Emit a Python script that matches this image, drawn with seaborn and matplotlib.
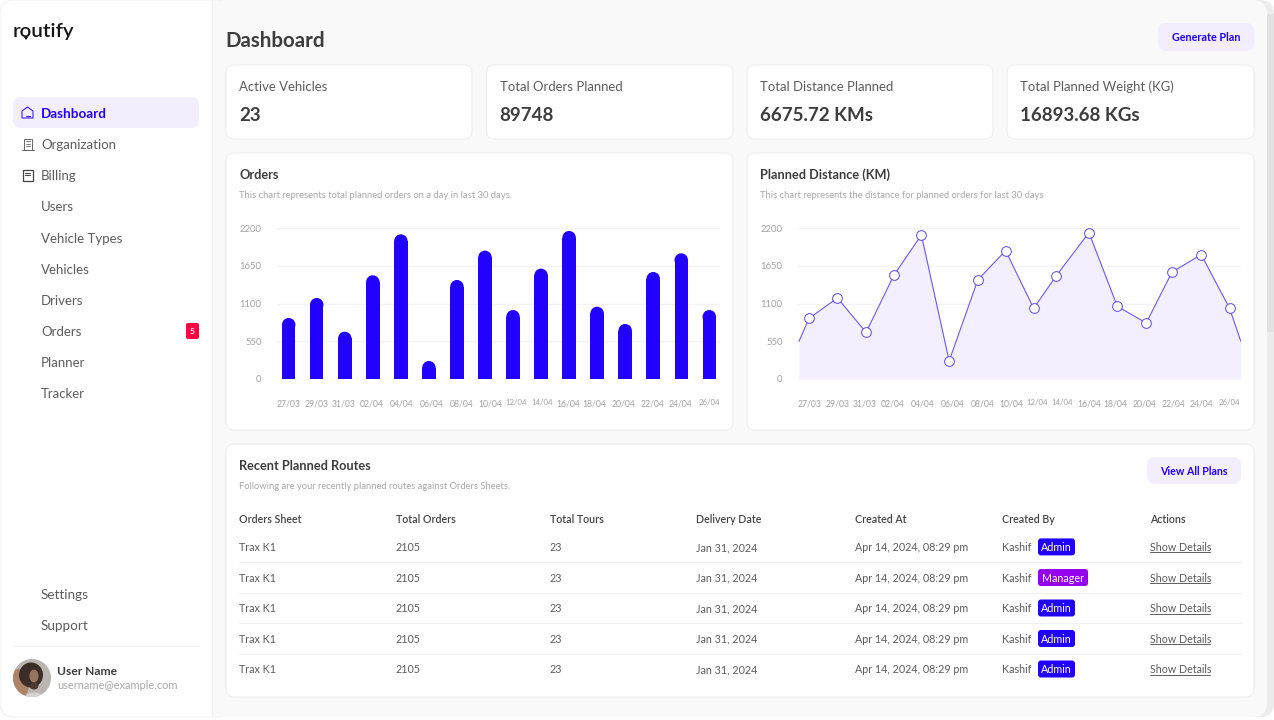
import matplotlib
matplotlib.use('Agg')
import matplotlib.pyplot as plt
from matplotlib.patches import FancyBboxPatch, Ellipse, Circle, Polygon, Rectangle
import seaborn as sns

# chart values
dates = ['27/03', '29/03', '31/03', '02/04', '04/04', '06/04', '08/04', '10/04',
         '12/04', '14/04', '16/04', '18/04', '20/04', '22/04', '24/04', '26/04']
orders = [891, 1183, 691, 1514, 2112, 263, 1446, 1874, 1007, 1611, 2161, 1056, 803, 1562, 1835, 1007]
distance = [550, 886, 1183, 681, 1514, 2103, 263, 1446, 1874, 1032, 1504, 2137, 1061, 818, 1562, 1815, 1032, 550]
distance_slots = [-0.36, 0, 1.01, 2.03, 3.02, 4.0, 4.99, 6.01, 7.0, 8.0, 8.8, 9.97, 10.98, 12.01, 12.93, 13.97, 14.98,
                  15.38]
y_ticks = [0, 550, 1100, 1650, 2200]

# dashboard text
nav_top = ['Dashboard', 'Organization', 'Billing', 'Users', 'Vehicle Types', 'Vehicles', 'Drivers', 'Orders',
           'Planner', 'Tracker']
nav_bottom = ['Settings', 'Support']
kpi_labels = ['Active Vehicles', 'Total Orders Planned', 'Total Distance Planned', 'Total Planned Weight (KG)']
kpi_values = ['23', '89748', '6675.72 KMs', '16893.68 KGs']
table_head = ['Orders Sheet', 'Total Orders', 'Total Tours', 'Delivery Date', 'Created At', 'Created By', 'Actions']
table_row = ['Trax K1', '2105', '23', 'Jan 31, 2024', 'Apr 14, 2024, 08:29 pm', 'Kashif']
table_roles = ['Admin', 'Manager', 'Admin', 'Admin', 'Admin']

# layout in pixels
W, H = 1274, 720
BLUE = '#2200ff'
TINT = '#f2eefe'
DARK = '#3d3d3d'
MID = '#5c5c5c'
GREY = '#a8a8a8'
orders_label_px = [288.7, 316.7, 344, 372, 401.7, 431.7, 461.3, 490.3, 516.3, 541.7, 568.3, 594.7, 623.3, 652.3,
                   680.7, 709]
distance_label_px = [809.4, 837.4, 864.4, 892.8, 922.8, 952.5, 982.2, 1011.2, 1037.5, 1062.5, 1089.1, 1115.4,
                     1144.1, 1173.5, 1201.5, 1229.8]
small_labels = ['12/04', '14/04', '26/04']

sns.set_theme(style='white')
plt.rcParams['font.family'] = ['Lato', 'DejaVu Sans']

fig = plt.figure(figsize=(W / 100, H / 100), dpi=100, facecolor='white')
ui = fig.add_axes([0, 0, 1, 1])
ui.set_xlim(0, W)
ui.set_ylim(H, 0)
ui.axis('off')


def box(x0, y0, x1, y1, r=8, fc='white', ec='none', lw=0.8, z=1):
    patch = FancyBboxPatch((x0 + r, y0 + r), x1 - x0 - 2 * r, y1 - y0 - 2 * r,
                           boxstyle='round,pad={},rounding_size={}'.format(r, r), fc=fc, ec=ec, lw=lw, zorder=z)
    ui.add_patch(patch)
    return patch


def label(x, y, s, px=13, color=MID, weight='normal', ha='left'):
    # y is the middle of the capitals, baseline alignment keeps rows level
    ui.text(x, y + 0.36 * px, s, fontsize=px * 0.72, color=color, fontweight=weight, ha=ha, va='baseline', zorder=5)


# page frame, scrollbar and sidebar
box(1200, 0, 1274, 717, r=14, fc='#ececec', z=0)
ui.add_patch(Rectangle((1267, 14), 7, 318, fc='#e2e2e2', ec='none', zorder=0.5))
box(100, 0, 1267, 717, r=14, fc='#f9f9f9', z=0.6)
box(0, 0, 230, 717, r=14, fc='white', ec='#f1f1f1', z=0.7)
ui.add_patch(Rectangle((212, 1), 30, 715, fc='#f9f9f9', ec='none', zorder=0.8))
ui.plot([212, 212], [0, 717], color='#f0f0f0', lw=0.8, zorder=0.9)

# sidebar content
label(13, 29.3, 'routify', px=20.5, color='#151515', weight=600)
ui.add_patch(Polygon([[23.5, 36.5], [28.5, 36.5], [26, 40]], fc='#151515', ec='none', zorder=5))
box(13, 97, 199, 128, fc=TINT)
nav_y = [113, 144, 175, 206, 238, 269, 300, 331, 362, 393]
for name, y in zip(nav_top, nav_y):
    if name == 'Dashboard':
        label(41, y, name, px=13.5, color=BLUE, weight='bold')
    else:
        label(41, y, name, px=13.3)
for name, y in zip(nav_bottom, [594, 625]):
    label(41, y, name, px=13.5)
box(186, 323, 199, 339, r=2, fc='#ff0040')
label(192.5, 331, '5', px=8.5, color='white', weight='bold', ha='center')
ui.plot([13, 199], [646, 646], color='#efefef', lw=0.8, zorder=2)
label(57, 671, 'User Name', px=12, color=DARK, weight='bold')
label(57, 685, 'username@example.com', px=11, color=GREY)

# sidebar icons
ui.add_patch(Polygon([[22, 111], [27.5, 107], [33, 111], [33, 118], [22, 118]], fc='none', ec=BLUE, lw=0.7, zorder=5))
ui.plot([25.5, 29.5], [115.5, 115.5], color=BLUE, lw=0.7, zorder=5)
ui.add_patch(Rectangle((23.5, 138.5), 8, 11, fc='none', ec='#666666', lw=0.7, zorder=5))
ui.plot([21.5, 33.5], [149.5, 149.5], color='#666666', lw=0.7, zorder=5)
for y in [141, 143.5, 146]:
    ui.plot([25.5, 29.5], [y, y], color='#666666', lw=0.6, zorder=5)
ui.add_patch(Rectangle((22.5, 169.5), 10, 11, fc='none', ec='#444444', lw=0.9, zorder=5))
for y in [172.5, 175]:
    ui.plot([25, 30], [y, y], color='#444444', lw=0.8, zorder=5)

# avatar
clip = Circle((32, 678), 19, transform=ui.transData)
avatar_parts = [Rectangle((13, 659), 38, 38, fc='#b9b5b1', ec='none', zorder=2),
                Ellipse((19, 684), 20, 30, fc='#ad8468', ec='none', zorder=2.1),
                Ellipse((31, 675), 24, 25, fc='#3b2e28', ec='none', zorder=2.2),
                Ellipse((34, 676), 9, 13, fc='#96745e', ec='none', zorder=2.3),
                Ellipse((34, 686), 9, 7, fc='#4c3a31', ec='none', zorder=2.35),
                Ellipse((34, 696), 16, 7, fc='#d6d2ce', ec='none', zorder=2.4)]
for part in avatar_parts:
    ui.add_patch(part)
    part.set_clip_path(clip)

# header
label(225.5, 40, 'Dashboard', px=20.5, color=DARK, weight='bold')
box(1158, 23, 1254, 51, fc=TINT)
label(1206, 37.5, 'Generate Plan', px=10.8, color=BLUE, weight='bold', ha='center')

# kpi cards
kpi_x = [(226, 472), (486.5, 733), (747, 993), (1007, 1254)]
for (x0, x1), name, value in zip(kpi_x, kpi_labels, kpi_values):
    box(x0, 65, x1, 139, ec='#eeeeee')
    label(x0 + 13, 86.3, name, px=13.1)
    label(x0 + 13, 114, value, px=18.8, color=DARK, weight='bold')

# chart cards
box(226, 153, 733, 430, ec='#eeeeee')
box(747, 153, 1254, 430, ec='#eeeeee')
label(239, 174, 'Orders', px=12.8, color=DARK, weight='bold')
label(239, 195, 'This chart represents total planned orders on a day in last 30 days.', px=9.4, color=GREY)
label(760, 174, 'Planned Distance (KM)', px=12.8, color=DARK, weight='bold')
label(760, 195, 'This chart represents the distance for planned orders for last 30 days', px=9.4, color=GREY)


def chart_axes(x0, x1):
    ax = fig.add_axes([x0 / W, 1 - 379 / H, (x1 - x0) / W, (379 - 228.3) / H])
    ax.patch.set_alpha(0)
    return ax


def style_axes(ax, label_slots):
    ax.set_ylim(0, 2200)
    ax.set_yticks(y_ticks)
    ax.set_xticks(label_slots, labels=dates)
    ax.set_xlabel('')
    ax.set_ylabel('')
    ax.grid(axis='y', color='#f3f3f3', lw=1)
    ax.set_axisbelow(True)
    sns.despine(ax=ax, left=True, bottom=True)
    ax.tick_params(axis='y', length=0, pad=11, labelsize=6.8, labelcolor='#a2a2a2')
    ax.tick_params(axis='x', length=0, pad=14.5, labelsize=6.2, labelcolor='#a2a2a2')
    for tick in ax.get_xticklabels():
        if tick.get_text() in small_labels:
            tick.set_fontsize(5.6)


# orders bars, seaborn draws them and the tops get rounded after
ax_bar = chart_axes(277, 720)
sns.barplot(x=dates, y=orders, color=BLUE, saturation=1, width=0.48, linewidth=0, ax=ax_bar)
slot_w = 28.04
ax_bar.set_xlim((277 - 288.7) / slot_w, (720 - 288.7) / slot_w)
style_axes(ax_bar, [(p - 288.7) / slot_w for p in orders_label_px])
cap_h = 6.75 * 2200 / 150.7
for bar in list(ax_bar.patches):
    top = bar.get_height()
    bar.set_height(top - cap_h)
    ax_bar.add_patch(Ellipse((bar.get_x() + bar.get_width() / 2, top - cap_h), bar.get_width(), 2 * cap_h,
                             fc=BLUE, ec='none', zorder=bar.get_zorder()))

# distance area and line
ax_line = chart_axes(798, 1241)
ax_line.fill_between(distance_slots, distance, 0, color='#f3effe', lw=0, zorder=2)
sns.lineplot(x=distance_slots, y=distance, color='#6a58f7', lw=0.8, marker='o', ms=7, mfc='white', mec='#5a46f5',
             mew=0.7, markevery=list(range(1, 17)), errorbar=None, ax=ax_line, zorder=3)
slot_l = 28.07
ax_line.set_xlim((798 - 809.1) / slot_l, (1241 - 809.1) / slot_l)
style_axes(ax_line, [(p - 809.1) / slot_l for p in distance_label_px])

# routes table
box(226, 444, 1254, 697, ec='#eeeeee')
label(239, 465, 'Recent Planned Routes', px=12.8, color=DARK, weight='bold')
label(239, 486, 'Following are your recently planned routes against Orders Sheets.', px=9.4, color=GREY)
box(1147, 457, 1241, 484, fc=TINT)
label(1194, 471, 'View All Plans', px=10.6, color=BLUE, weight='bold', ha='center')

col_x = [239, 396, 550, 696, 855, 1002, 1150]
row_y = [547.4, 578, 608.5, 639, 669.5]
for x, name in zip(col_x, table_head):
    label(x, 519, name, px=10.6, color='#444444', weight=600)
for y, role in zip(row_y, table_roles):
    for x, cell in zip(col_x, table_row):
        label(x, y, cell, px=10.7)
    badge_right = 1088 if role == 'Manager' else 1075
    badge_color = '#9500ee' if role == 'Manager' else BLUE
    box(1038, y - 9, badge_right, y + 8, r=3, fc=badge_color)
    label((1038 + badge_right) / 2, y, role, px=10.8, color='white', ha='center')
    label(col_x[6] - 0.5, y, 'Show Details', px=10.6)
    ui.plot([1149.5, 1210], [y + 5, y + 5], color=MID, lw=0.7, zorder=5)
for y in [562, 592.5, 623, 653.5]:
    ui.plot([239, 1241], [y, y], color='#f1f1f1', lw=0.8, zorder=2)

fig.savefig('out.png', dpi=100)
